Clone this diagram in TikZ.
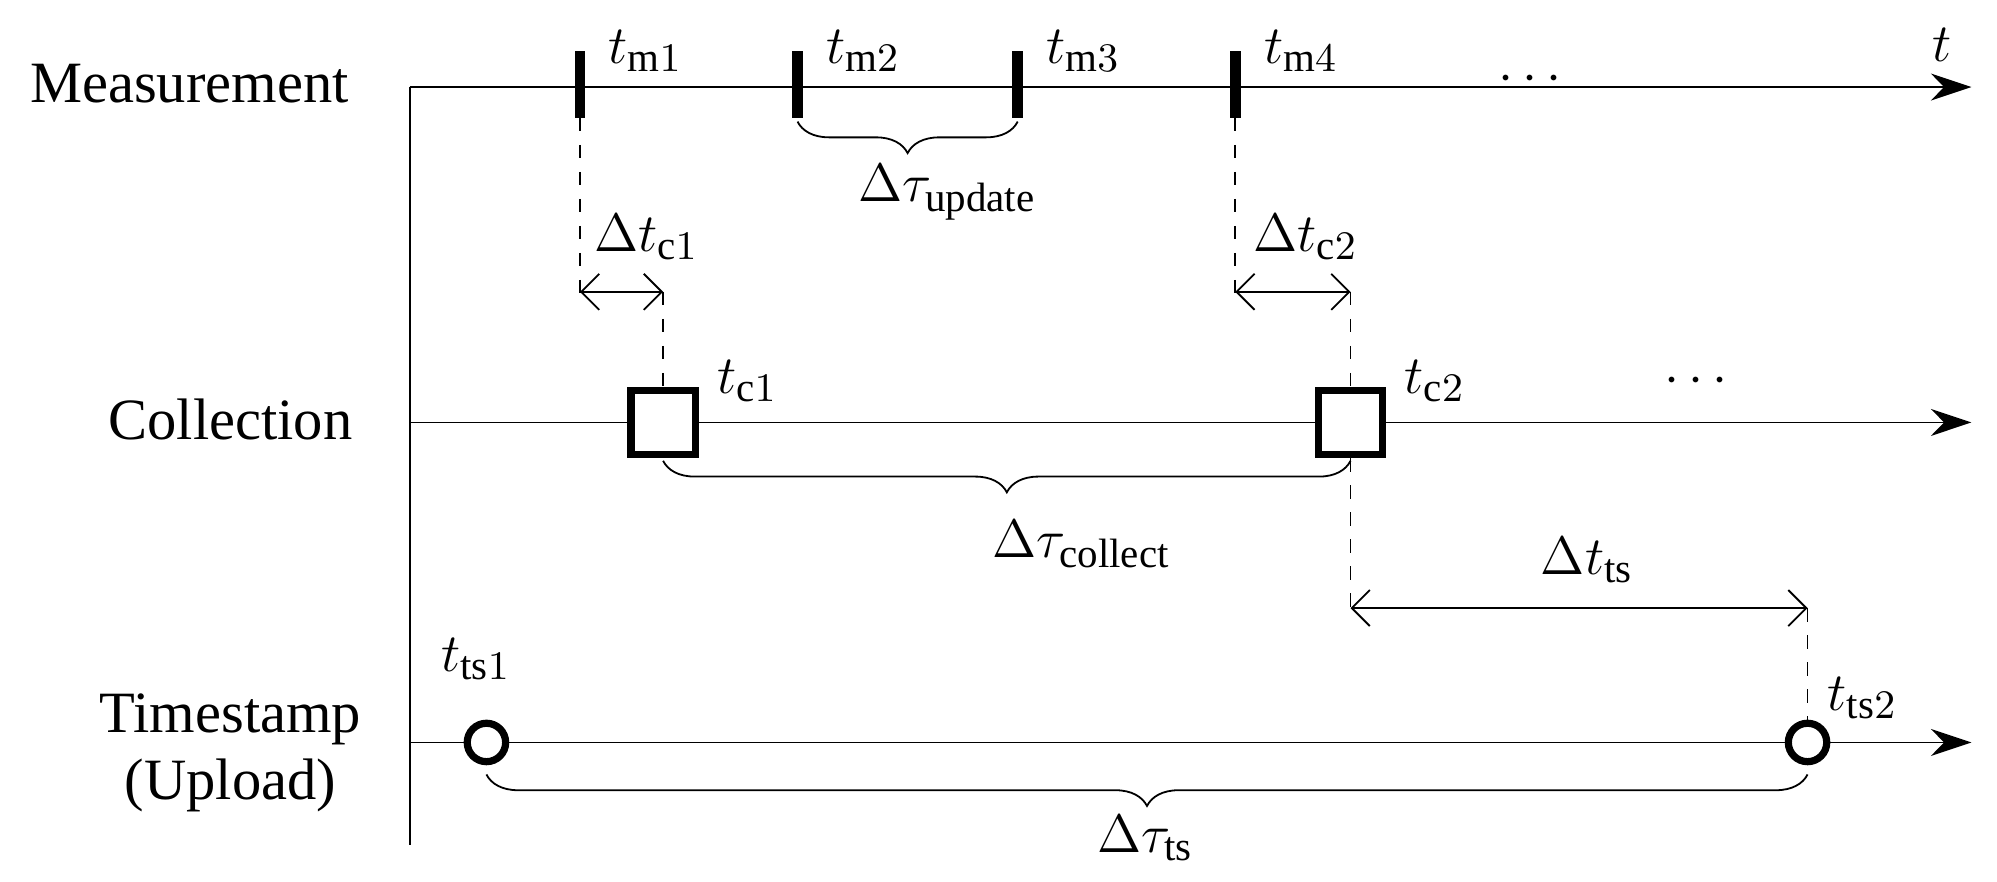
\documentclass[tikz,border=0pt]{standalone}
\usepackage{fontspec}
\setmainfont{Liberation Serif}
\usetikzlibrary{arrows.meta, decorations.pathreplacing, calc}

\begin{document}
\begin{tikzpicture}[x=0.01cm, y=-0.01cm,
        every node/.style={font=\fontsize{13}{15}\selectfont},
        timeline/.style={thin, -{Stealth[length=9pt, width=6pt]}},
        tick/.style={line width=2.4pt},
        guide/.style={dashed, thin},
        span/.style={thin, {Straight Barb[length=4pt]}-{Straight Barb[length=4pt]}},
        sbrace/.style={decorate, decoration={brace, mirror, amplitude=7pt}},
        collect/.style={draw, line width=1.6pt, fill=white, minimum size=0.5cm, inner sep=0pt},
        stamp/.style={draw, circle, line width=1.6pt, fill=white, minimum size=0.3cm, inner sep=0pt}]
    \useasboundingbox (0,0) rectangle (1560,689);
    % axes
    \coordinate (axTop) at (320,68);
    \coordinate (axBot) at (320,660);
    \draw [thin] (axTop) -- (axBot);
    \coordinate (mEnd) at (1540,68);
    \coordinate (cStart) at (320,330);
    \coordinate (cEnd) at (1540,330);
    \coordinate (tStart) at (320,580);
    \coordinate (tEnd) at (1540,580);
    \draw [timeline] (axTop) -- (mEnd);
    \draw [timeline] (cStart) -- (cEnd);
    \draw [timeline] (tStart) -- (tEnd);
    \node at (148,65) {Measurement};
    \node at (180,328) {Collection};
    \node [align=center] at (180,588) {Timestamp\\(Upload)};
    \node at (1517,35) {$t$};
    \node at (1195,62) {$\cdots$};
    \node at (1325,298) {$\cdots$};
    % measurement ticks
    \foreach \x/\i in {453/1, 623/2, 795/3, 965/4} {
        \coordinate (m\i) at (\x,68);
        \draw [tick] (\x,40) -- (\x,92);
        \node [anchor=west] at (\x+10,40) {$t_{\mathrm{m}\i}$};
    }
    \draw [sbrace] (623,95) -- (795,95);
    \node at (740,150) {$\Delta\tau_{\mathrm{update}}$};
    % collection
    \node [collect] (c1) at (518,330) {};
    \node [collect] (c2) at (1055,330) {};
    \node [anchor=west] at (548,298) {$t_{\mathrm{c}1}$};
    \node [anchor=west] at (1085,298) {$t_{\mathrm{c}2}$};
    \coordinate (d1a) at (453,228);
    \coordinate (d1b) at (518,228);
    \coordinate (d2a) at (965,228);
    \coordinate (d2b) at (1055,228);
    \draw [guide] (453,92) -- (453,235);
    \draw [guide] (d1b) -- (c1.north);
    \draw [guide] (965,92) -- (965,235);
    \draw [guide] (d2b) -- (c2.north);
    \draw [span] (d1a) -- (d1b);
    \draw [span] (d2a) -- (d2b);
    \node at (505,185) {$\Delta t_{\mathrm{c}1}$};
    \node at (1020,185) {$\Delta t_{\mathrm{c}2}$};
    \draw [sbrace] (518,360) -- (1055,360);
    \node at (845,425) {$\Delta\tau_{\mathrm{collect}}$};
    % timestamp
    \node [stamp] (s1) at (380,580) {};
    \node [stamp] (s2) at (1412,580) {};
    \node at (372,515) {$t_{\mathrm{ts}1}$};
    \node at (1455,545) {$t_{\mathrm{ts}2}$};
    \coordinate (e1) at (1055,475);
    \coordinate (e2) at (1412,475);
    \draw [guide] (c2.south) -- (1055,482);
    \draw [guide] (e2) -- (s2.north);
    \draw [span] (e1) -- (e2);
    \node at (1240,438) {$\Delta t_{\mathrm{ts}}$};
    \draw [sbrace] (380,605) -- (1412,605);
    \node at (895,655) {$\Delta\tau_{\mathrm{ts}}$};
\end{tikzpicture}
\end{document}
